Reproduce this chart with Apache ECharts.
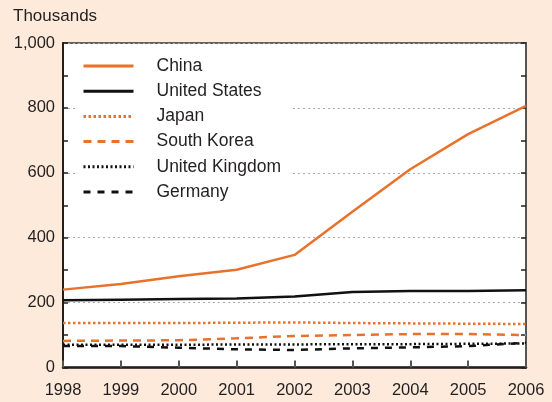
<!DOCTYPE html>
<html>
<head>
<meta charset="utf-8">
<script src="https://cdn.jsdelivr.net/npm/echarts@6/dist/echarts.min.js"></script>
<style>
    html, body { margin: 0; padding: 0; background: #fdeadb; }
    #chart { width: 552px; height: 402px; }
</style>
</head>
<body>
<div id="chart"></div>
<script>
    /* 数据 */
    let years = ['1998', '1999', '2000', '2001', '2002', '2003', '2004', '2005', '2006'];
    let china = [240, 257, 281, 301, 347, 480, 611, 719, 806];
    let unitedStates = [207, 209, 211, 213, 219, 233, 236, 236, 238];
    let japan = [137, 137, 137, 138, 139, 137, 136, 135, 134];
    let southKorea = [82, 83, 84, 90, 97, 100, 103, 103, 100];
    let unitedKingdom = [70, 70, 70, 71, 71, 72, 72, 73, 74];
    let germany = [66, 66, 61, 56, 54, 59, 62, 66, 76];

    let orange = '#e8712b';
    let ink = '#231f20';
    let font = 'Liberation Sans, Arial, sans-serif';

    let box = document.getElementById('chart');
    let myChart = echarts.init(box);

    let line = function (name, data, color, type) {
        return {
            name: name,
            type: 'line',
            data: data,
            symbol: 'none',
            lineStyle: { color: color, width: 2.5, type: type, cap: 'butt' },
            itemStyle: { color: color }
        };
    };

    let options = {
        backgroundColor: '#fdeadb',
        animation: false,
        title: {
            text: 'Thousands',
            left: 13,
            top: 8,
            padding: 0,
            textStyle: { fontFamily: font, fontSize: 17, fontWeight: 'normal', color: ink }
        },
        grid: {
            left: 63, right: 26, top: 43, bottom: 34.5,
            show: true,
            backgroundColor: '#fff',
            borderColor: '#333',
            borderWidth: 1.5
        },
        legend: {
            orient: 'vertical',
            left: 75,
            top: 45,
            padding: [12, 12, 8, 7],
            backgroundColor: '#fff',
            itemWidth: 50,
            itemHeight: 14,
            itemGap: 7.2,
            itemStyle: { opacity: 0 },
            lineStyle: { width: 3 },
            textStyle: { fontFamily: font, fontSize: 17.5, color: ink, padding: [0, 0, 0, 18] },
            data: ['China', 'United States', 'Japan', 'South Korea', 'United Kingdom', 'Germany']
        },
        xAxis: {
            type: 'category',
            data: years,
            boundaryGap: false,
            axisLine: { lineStyle: { color: ink, width: 2.5 } },
            axisTick: { inside: true, length: 7, lineStyle: { color: '#555', width: 2 } },
            axisLabel: { fontFamily: font, fontSize: 16.5, color: ink, margin: 14 },
            splitLine: { show: false }
        },
        yAxis: [
            {
                type: 'value',
                min: 0,
                max: 1000,
                interval: 200,
                axisLine: { show: true, lineStyle: { color: ink, width: 2 } },
                axisTick: { show: true, inside: true, length: 5, lineStyle: { color: ink, width: 1.5 } },
                minorTick: { show: true, splitNumber: 2, length: 5, lineStyle: { color: ink, width: 1.5 } },
                axisLabel: {
                    fontFamily: font, fontSize: 16.5, color: ink, margin: 8,
                    formatter: function (v) { return v >= 1000 ? '1,000' : String(v); }
                },
                splitLine: { show: true, lineStyle: { color: '#aaa', width: 1, type: [2, 3] } }
            },
            {
                type: 'value',
                min: 0,
                max: 1000,
                interval: 200,
                position: 'right',
                axisLine: { show: true, lineStyle: { color: '#555', width: 2 } },
                axisTick: { show: true, inside: true, length: 5, lineStyle: { color: ink, width: 1.5 } },
                minorTick: { show: true, splitNumber: 2, length: 5, lineStyle: { color: ink, width: 1.5 } },
                axisLabel: { show: false },
                splitLine: { show: false }
            }
        ],
        series: [
            line('China', china, orange, 'solid'),
            line('United States', unitedStates, '#111', 'solid'),
            line('Japan', japan, orange, [2.5, 2.5]),
            line('South Korea', southKorea, orange, [8, 6]),
            line('United Kingdom', unitedKingdom, '#111', [2, 2.5]),
            line('Germany', germany, '#111', [7, 7])
        ]
    };
    myChart.setOption(options);
</script>
</body>
</html>
